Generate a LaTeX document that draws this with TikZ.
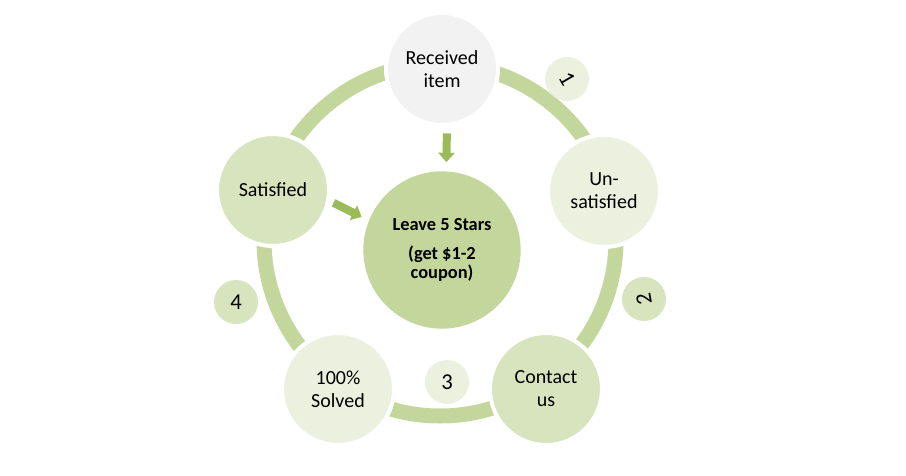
\documentclass[tikz,border=0pt]{standalone}
\usepackage{fontspec}
\setmainfont{Carlito}
\usetikzlibrary{arrows.meta}

\begin{document}
\begin{tikzpicture}[x=0.75pt, y=-0.75pt,
	stepnode/.style={circle, draw=white, line width=3pt, minimum size=84pt, inner sep=0pt, align=center, font=\fontsize{15}{17.25}\selectfont},
	numnode/.style={circle, minimum size=33pt, inner sep=0pt, font=\fontsize{17}{18}\selectfont},
	tocenter/.style={-{Triangle[width=12pt, length=7pt]}, line width=6pt, draw=arrowcol}]
	
	\definecolor{ringcol}{HTML}{C3D69B}
	\definecolor{arrowcol}{HTML}{9BBB59}
	\definecolor{palecol}{HTML}{EBF1DE}
	\definecolor{midcol}{HTML}{D7E4BD}
	\definecolor{greycol}{HTML}{F2F2F2}
	
	\useasboundingbox (0,0) rectangle (906,475);
	
	% Ring behind the steps
	\draw[ringcol, line width=11.25pt] (440,240) circle (176);
	
	% Centre
	\node[circle, fill=ringcol, minimum size=118pt, inner sep=0pt, align=center,
	font=\bfseries\fontsize{13.8}{14.5}\selectfont] (leave) at (442,250)
	{Leave 5 Stars\\[7pt](get \$1-2\\coupon)};
	
	% Steps round the ring
	\node[stepnode, fill=greycol] (recv) at (442,69) {Received\\item};
	\node[stepnode, fill=palecol] (unsat) at (604,191) {Un-\\satisfied};
	\node[stepnode, fill=midcol] (contact) at (546,389) {Contact\\us};
	\node[stepnode, fill=palecol] (solved) at (338,389) {100\%\\Solved};
	\node[stepnode, fill=midcol] (sat) at (273,190) {Satisfied};
	
	% Numbers
	\node[numnode, fill=palecol, rotate=-60] (n1) at (567,79) {1};
	\node[numnode, fill=midcol, rotate=100] (n2) at (644,299) {2};
	\node[numnode, fill=palecol] (n3) at (447,382) {3};
	\node[numnode, fill=midcol] (n4) at (236,302) {4};
	
	% Arrows into the centre
	\draw[tocenter, shorten <=5pt, shorten >=6.75pt] (recv.-85) -- (leave.87);
	\draw[tocenter, shorten <=3pt, shorten >=6pt] (sat.-11) -- (leave.158);
	
\end{tikzpicture}
\end{document}
